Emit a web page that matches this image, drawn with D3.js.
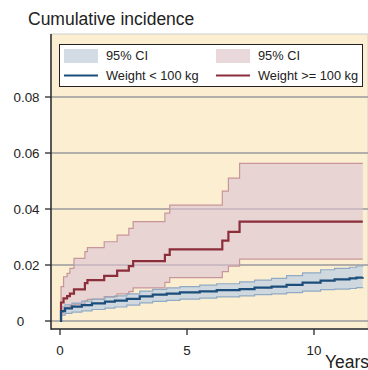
<!DOCTYPE html>
<html>
<head>
<meta charset="utf-8">
<script src="https://cdn.jsdelivr.net/npm/d3@7"></script>
<style>
  body { margin: 0; background: #ffffff; }
  svg { display: block; font-family: "Liberation Sans", Arial, sans-serif; }
</style>
</head>
<body>
<svg id="chart"></svg>
<script>

var width = 368;
var height = 370;

// Weight < 100 kg
var lowTimes = [0, 0.04, 0.2, 0.47, 0.86, 1.26, 1.77, 2.16, 2.63, 3.14, 3.65, 4.2, 4.72, 5.5, 6.17, 7.07, 7.66, 8.33, 8.92, 9.55, 10.26, 10.81, 11.4, 11.67, 11.92];
var lowEst   = [0, 0.0035, 0.0045, 0.0051, 0.0057, 0.0063, 0.0069, 0.0073, 0.0079, 0.0088, 0.0094, 0.0098, 0.0102, 0.0106, 0.011, 0.0114, 0.0119, 0.0123, 0.0129, 0.0137, 0.0144, 0.0149, 0.0152, 0.0155, 0.0156];
var lowUpper = [0, 0.005, 0.0058, 0.0064, 0.0071, 0.0078, 0.0085, 0.009, 0.0097, 0.0107, 0.0113, 0.0118, 0.0123, 0.0128, 0.0133, 0.014, 0.0146, 0.0152, 0.0162, 0.0172, 0.0183, 0.0188, 0.0192, 0.0197, 0.02];
var lowLower = [0, 0.0021, 0.0027, 0.0032, 0.0036, 0.0041, 0.0046, 0.005, 0.0057, 0.0065, 0.007, 0.0074, 0.0078, 0.0082, 0.0086, 0.009, 0.0094, 0.0097, 0.0101, 0.0107, 0.0112, 0.0114, 0.0116, 0.0119, 0.012];

// Weight >= 100 kg
var highTimes = [0, 0.04, 0.14, 0.28, 0.39, 0.55, 0.98, 1.08, 1.74, 2.25, 2.71, 2.88, 4.13, 4.32, 6.39, 6.63, 7.07, 11.92];
var highEst   = [0, 0.0066, 0.0081, 0.0089, 0.0098, 0.0113, 0.0135, 0.0146, 0.0161, 0.018, 0.0196, 0.0214, 0.0236, 0.0256, 0.0287, 0.0318, 0.0355, 0.0355];
var highUpper = [0, 0.0123, 0.0158, 0.017, 0.0188, 0.0224, 0.0248, 0.0262, 0.0283, 0.0307, 0.0331, 0.0355, 0.0385, 0.0414, 0.0464, 0.051, 0.0563, 0.0563];
var highLower = [0, 0.003, 0.0045, 0.005, 0.0055, 0.006, 0.0072, 0.0077, 0.0087, 0.0097, 0.0105, 0.0118, 0.0138, 0.0155, 0.0176, 0.0196, 0.0221, 0.0221];

var yTicks = [0, 0.02, 0.04, 0.06, 0.08];
var yTickLabels = ["0", "0.02", "0.04", "0.06", "0.08"];
var xTicks = [0, 5, 10];
var legendLabels = ["95% CI", "Weight < 100 kg", "95% CI", "Weight >= 100 kg"];

var svg = d3.select("#chart")
  .attr("width", width)
  .attr("height", height);

var plot = { left: 51, top: 34, right: 368, bottom: 329 };

var x = d3.scaleLinear().domain([0, 10]).range([60, 314]);
var y = d3.scaleLinear().domain([0, 0.08]).range([321, 97]);

function rows(times, est, lo, hi) {
  return times.map(function(t, i) {
    return { t: t, est: est[i], lo: lo[i], hi: hi[i] };
  });
}
var lowData = rows(lowTimes, lowEst, lowLower, lowUpper);
var highData = rows(highTimes, highEst, highLower, highUpper);

// plot region
svg.append("rect")
  .attr("x", plot.left)
  .attr("y", plot.top)
  .attr("width", plot.right - plot.left)
  .attr("height", plot.bottom - plot.top)
  .attr("fill", "#fcefd1")
  .attr("stroke", "#d0d0d0")
  .attr("stroke-width", 1);

// grid
svg.append("g").selectAll("line")
  .data(yTicks)
  .enter().append("line")
  .attr("x1", plot.left)
  .attr("x2", plot.right)
  .attr("y1", function(d) { return y(d); })
  .attr("y2", function(d) { return y(d); })
  .attr("stroke", "#9a9a9a")
  .attr("stroke-width", 1.3);

var area = d3.area()
  .curve(d3.curveStepAfter)
  .x(function(d) { return x(d.t); })
  .y0(function(d) { return y(d.lo); })
  .y1(function(d) { return y(d.hi); });

function bound(key) {
  return d3.line()
    .curve(d3.curveStepAfter)
    .x(function(d) { return x(d.t); })
    .y(function(d) { return y(d[key]); });
}

// confidence bands
svg.append("path").datum(highData)
  .attr("d", area)
  .attr("fill", "#dcc4d2")
  .attr("fill-opacity", 0.62);
svg.append("path").datum(lowData)
  .attr("d", area)
  .attr("fill", "#b3c8e6")
  .attr("fill-opacity", 0.62);

["lo", "hi"].forEach(function(k) {
  svg.append("path").datum(highData)
    .attr("d", bound(k))
    .attr("fill", "none")
    .attr("stroke", "#c8959b")
    .attr("stroke-width", 1.2);
  svg.append("path").datum(lowData)
    .attr("d", bound(k))
    .attr("fill", "none")
    .attr("stroke", "#8eaac4")
    .attr("stroke-width", 1.2);
});

// estimates
svg.append("path").datum(highData)
  .attr("d", bound("est"))
  .attr("fill", "none")
  .attr("stroke", "#8c2d3b")
  .attr("stroke-width", 2.2);
svg.append("path").datum(lowData)
  .attr("d", bound("est"))
  .attr("fill", "none")
  .attr("stroke", "#1b4e7b")
  .attr("stroke-width", 2.2);

// axes
svg.append("line")
  .attr("x1", plot.left).attr("x2", plot.left)
  .attr("y1", plot.top).attr("y2", plot.bottom + 0.75)
  .attr("stroke", "#2a2a2a").attr("stroke-width", 1.5);
svg.append("line")
  .attr("x1", plot.left).attr("x2", plot.right)
  .attr("y1", plot.bottom).attr("y2", plot.bottom)
  .attr("stroke", "#2a2a2a").attr("stroke-width", 1.5);

var yAxis = svg.append("g");
yAxis.selectAll("line")
  .data(yTicks)
  .enter().append("line")
  .attr("x1", plot.left - 6).attr("x2", plot.left)
  .attr("y1", function(d) { return y(d); })
  .attr("y2", function(d) { return y(d); })
  .attr("stroke", "#2a2a2a").attr("stroke-width", 1.3);
yAxis.selectAll("text")
  .data(yTicks)
  .enter().append("text")
  .attr("x", function(d) { return d === 0 ? 20.5 : 26.5; })
  .attr("y", function(d) { return y(d); })
  .attr("dy", "0.35em")
  .attr("text-anchor", "middle")
  .attr("font-size", 13.4)
  .attr("fill", "#222")
  .text(function(d, i) { return yTickLabels[i]; });

var xAxis = svg.append("g");
xAxis.selectAll("line")
  .data(xTicks)
  .enter().append("line")
  .attr("x1", function(d) { return x(d); })
  .attr("x2", function(d) { return x(d); })
  .attr("y1", plot.bottom).attr("y2", plot.bottom + 6)
  .attr("stroke", "#2a2a2a").attr("stroke-width", 1.3);
xAxis.selectAll("text")
  .data(xTicks)
  .enter().append("text")
  .attr("x", function(d) { return x(d); })
  .attr("y", 350)
  .attr("dy", "0.35em")
  .attr("text-anchor", "middle")
  .attr("font-size", 13.4)
  .attr("fill", "#222")
  .text(function(d) { return d; });

svg.append("text")
  .attr("x", 325).attr("y", 368)
  .attr("font-size", 17.5)
  .attr("fill", "#222")
  .text("Years");

svg.append("text")
  .attr("x", 28).attr("y", 25)
  .attr("font-size", 17.5)
  .attr("fill", "#222")
  .text("Cumulative incidence");

// legend
var legend = svg.append("g");
legend.append("rect")
  .attr("x", 59.5).attr("y", 44.5)
  .attr("width", 303).attr("height", 42)
  .attr("fill", "#ffffff")
  .attr("stroke", "#222").attr("stroke-width", 1);

var items = [
  { kind: "band", color: "#d3dce4", col: 0, row: 0 },
  { kind: "line", color: "#1b4e7b", col: 0, row: 1 },
  { kind: "band", color: "#e9d8da", col: 1, row: 0 },
  { kind: "line", color: "#8c2d3b", col: 1, row: 1 }
];
var colX = [64, 216];
var rowY = [56, 75.5];

items.forEach(function(it, i) {
  var x0 = colX[it.col];
  var yc = rowY[it.row];
  if (it.kind === "band") {
    legend.append("rect")
      .attr("x", x0).attr("y", yc - 7)
      .attr("width", 34).attr("height", 14)
      .attr("fill", it.color);
  } else {
    legend.append("line")
      .attr("x1", x0).attr("x2", x0 + 34)
      .attr("y1", yc).attr("y2", yc)
      .attr("stroke", it.color).attr("stroke-width", 2);
  }
  legend.append("text")
    .attr("x", x0 + 42).attr("y", yc)
    .attr("dy", "0.35em")
    .attr("font-size", 12.8)
    .attr("fill", "#222")
    .text(legendLabels[i]);
});

</script>
</body>
</html>
